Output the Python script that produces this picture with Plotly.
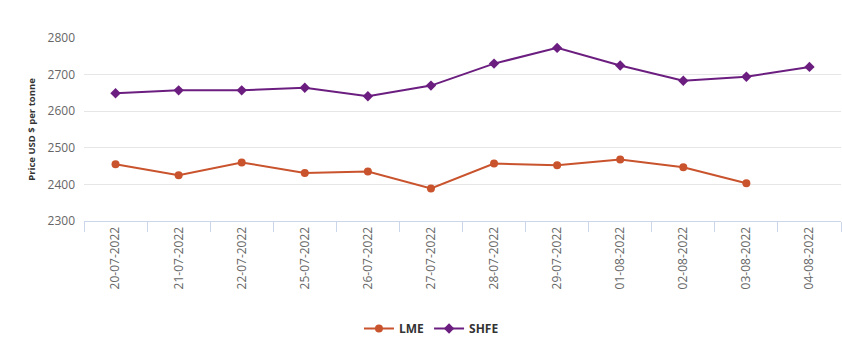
import plotly.graph_objects as go

dates = ["20-07-2022", "21-07-2022", "22-07-2022", "25-07-2022", "26-07-2022", "27-07-2022",
         "28-07-2022", "29-07-2022", "01-08-2022", "02-08-2022", "03-08-2022", "04-08-2022"]
lme = [2455, 2425, 2460, 2431, 2435, 2389, 2457, 2452, 2468, 2447, 2403, None]
shfe = [2649, 2657, 2657, 2664, 2641, 2670, 2730, 2773, 2725, 2683, 2694, 2721]

LME_COLOR = "#c9532c"
SHFE_COLOR = "#6b1e7f"

fig = go.Figure()
fig.add_trace(go.Scatter(x=dates, y=lme, name="<b>LME</b>", mode="lines+markers",
                         line=dict(color=LME_COLOR, width=2),
                         marker=dict(symbol="circle", size=8, color=LME_COLOR)))
fig.add_trace(go.Scatter(x=dates, y=shfe, name="<b>SHFE</b>", mode="lines+markers",
                         line=dict(color=SHFE_COLOR, width=2),
                         marker=dict(symbol="diamond", size=8, color=SHFE_COLOR)))

fig.update_layout(
    width=842, height=343,
    margin=dict(l=84, r=1, t=38, b=121),
    paper_bgcolor="white", plot_bgcolor="white",
    font=dict(family="Open Sans", color="#666666"),
    showlegend=True,
    legend=dict(orientation="h", x=0.459, xanchor="center", y=-0.5, yanchor="top",
                font=dict(size=12, color="#333333", family="Open Sans"),
                itemwidth=30),
    xaxis=dict(type="category", showline=True, linecolor="#ccd6eb", linewidth=1,
               ticks="outside", tickson="boundaries", ticklen=10, tickcolor="#ccd6eb",
               tickangle=-90, showgrid=False, tickfont=dict(size=12, color="#666666"),
               range=[-0.5, 11.5]),
    yaxis=dict(range=[2300, 2800], dtick=100, showgrid=True, gridcolor="#e6e6e6",
               zeroline=False, showline=False, tickfont=dict(size=12, color="#666666"),
               ticklabelstandoff=8,
               title=dict(text="<b>Price USD $ per tonne</b>", font=dict(size=9.5, color="#333333"),
                          standoff=10)),
)

fig.write_html("out.html")
